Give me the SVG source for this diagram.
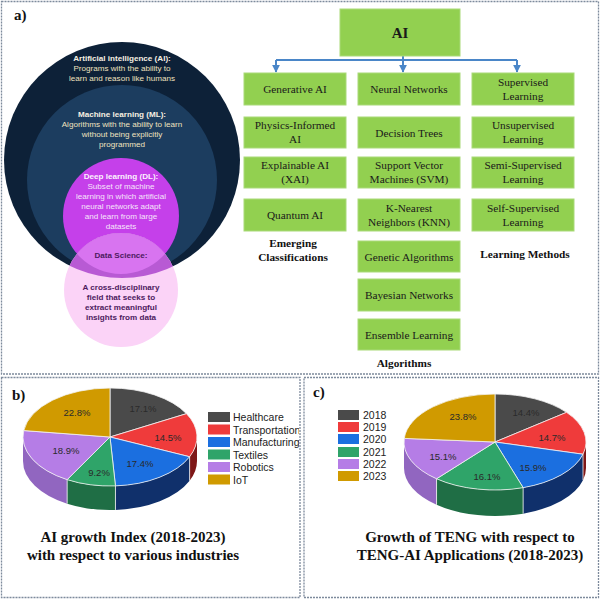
<svg xmlns="http://www.w3.org/2000/svg" width="600" height="599" viewBox="0 0 600 599">
<style>
.frame{fill:#fff;stroke:#7d8a9c;stroke-width:1.3;stroke-dasharray:2 1}
.plabel{font-family:"Liberation Serif",serif;font-weight:bold;font-size:15px;fill:#111}
.ct{font-family:"Liberation Sans",Arial,sans-serif;font-size:8.1px;text-anchor:middle}
.ctb{font-weight:bold}
.box rect{fill:#92d050;stroke:#a9da78;stroke-width:1}
.box text{font-family:"Liberation Serif",serif;font-size:11.3px;fill:#1a1a1a;text-anchor:middle}
.grp{font-family:"Liberation Serif",serif;font-weight:bold;font-size:11.3px;fill:#111;text-anchor:middle}
.conn{stroke:#4a86c8;stroke-width:2;fill:none}
.pct{font-family:"Liberation Sans",Arial,sans-serif;font-size:9.5px;fill:#2a2a2a;text-anchor:middle}
.leg{font-family:"Liberation Sans",Arial,sans-serif;font-size:10.5px;fill:#222}
.ttl{font-family:"Liberation Serif",serif;font-weight:bold;font-size:15px;fill:#111;text-anchor:middle}
</style>
<defs>
<marker id="arr" viewBox="0 0 10 10" refX="9" refY="5" markerWidth="4" markerHeight="4" orient="auto">
<path d="M0,0 L10,5 L0,10 Z" fill="#4a86c8"/>
</marker>
<clipPath id="pinkClip"><circle cx="121" cy="290" r="57"/></clipPath>
<clipPath id="clipB"><rect x="2" y="378" width="297" height="218"/></clipPath>
</defs>

<!-- frames -->
<rect class="frame" x="1.5" y="1.5" width="597" height="372.5"/>
<rect class="frame" x="1.5" y="377.5" width="298.5" height="220"/>
<rect class="frame" x="304" y="377.5" width="294.5" height="220"/>

<text class="plabel" x="14" y="20">a)</text>
<text class="plabel" x="12" y="400">b)</text>
<text class="plabel" x="313" y="397">c)</text>

<!-- Panel a: nested circles -->
<g id="venn">
<circle cx="122" cy="160" r="118" fill="#0d2138"/>
<circle cx="122" cy="180" r="95" fill="#1c3d5f"/>
<circle cx="121" cy="216" r="58" fill="#c540ea"/>
<circle cx="121" cy="290" r="57" fill="#fbd3f7"/>
<g clip-path="url(#pinkClip)">
<circle cx="122" cy="160" r="118" fill="#b85ad4"/>
<circle cx="121" cy="216" r="58" fill="#d874f0"/>
</g>
<g class="ct">
<text x="122" y="61" class="ctb" fill="#f7f0e2">Artificial intelligence (AI):</text>
<text x="122" y="71" fill="#efe2bf">Programs with the ability to</text>
<text x="122" y="81" fill="#efe2bf">learn and reason like humans</text>
<text x="122" y="117" class="ctb" fill="#f7f0e2">Machine learning (ML):</text>
<text x="122" y="127" fill="#efe2bf">Algorithms with the ability to learn</text>
<text x="122" y="137" fill="#efe2bf">without being explicitly</text>
<text x="122" y="147" fill="#efe2bf">programmed</text>
<text x="121" y="179" class="ctb" fill="#fdf2ff">Deep learning (DL):</text>
<text x="121" y="189" fill="#f6e4fb">Subset of machine</text>
<text x="121" y="199" fill="#f6e4fb">learning in which artificial</text>
<text x="121" y="209" fill="#f6e4fb">neural networks adapt</text>
<text x="121" y="219" fill="#f6e4fb">and learn from large</text>
<text x="121" y="229" fill="#f6e4fb">datasets</text>
<text x="121" y="258" class="ctb" fill="#4d1a5e">Data Science:</text>
<text x="121" y="290" class="ctb" fill="#4d1a5e">A cross-disciplinary</text>
<text x="121" y="300" class="ctb" fill="#4d1a5e">field that seeks to</text>
<text x="121" y="310" class="ctb" fill="#4d1a5e">extract meaningful</text>
<text x="121" y="320" class="ctb" fill="#4d1a5e">insights from data</text>
</g>
</g>

<!-- Panel a: hierarchy -->
<g id="connectors">
<line class="conn" x1="403" y1="56" x2="403" y2="60"/>
<line class="conn" x1="276" y1="60" x2="517" y2="60"/>
<line class="conn" x1="276" y1="60" x2="276" y2="72" marker-end="url(#arr)"/>
<line class="conn" x1="403" y1="60" x2="403" y2="72" marker-end="url(#arr)"/>
<line class="conn" x1="517" y1="60" x2="517" y2="72" marker-end="url(#arr)"/>
</g>

<g id="ai" class="box"><rect x="340" y="9" width="120" height="47"/><text x="400" y="38" style="font-weight:bold;font-size:15px">AI</text></g>

<g id="generative" class="box"><rect x="244" y="73" width="102" height="32"/><text x="295" y="93">Generative AI</text></g>
<g id="physics" class="box"><rect x="244" y="117" width="102" height="31"/><text x="295" y="129">Physics-Informed</text><text x="295" y="143">AI</text></g>
<g id="xai" class="box"><rect x="244" y="157" width="102" height="31"/><text x="295" y="169">Explainable AI</text><text x="295" y="183">(XAI)</text></g>
<g id="quantum" class="box"><rect x="244" y="199" width="102" height="32"/><text x="295" y="219">Quantum AI</text></g>

<g id="nn" class="box"><rect x="358" y="73" width="102" height="32"/><text x="409" y="93">Neural Networks</text></g>
<g id="dt" class="box"><rect x="358" y="117" width="102" height="31"/><text x="409" y="137">Decision Trees</text></g>
<g id="svm" class="box"><rect x="358" y="157" width="102" height="31"/><text x="409" y="169">Support Vector</text><text x="409" y="183">Machines (SVM)</text></g>
<g id="knn" class="box"><rect x="358" y="199" width="102" height="32"/><text x="409" y="212">K-Nearest</text><text x="409" y="226">Neighbors (KNN)</text></g>
<g id="ga" class="box"><rect x="358" y="241" width="102" height="31"/><text x="409" y="261">Genetic Algorithms</text></g>
<g id="bn" class="box"><rect x="358" y="279" width="102" height="32"/><text x="409" y="299">Bayesian Networks</text></g>
<g id="el" class="box"><rect x="358" y="319" width="102" height="31"/><text x="409" y="339">Ensemble Learning</text></g>

<g id="sup" class="box"><rect x="472" y="73" width="102" height="32"/><text x="523" y="86">Supervised</text><text x="523" y="100">Learning</text></g>
<g id="unsup" class="box"><rect x="472" y="117" width="102" height="31"/><text x="523" y="129">Unsupervised</text><text x="523" y="143">Learning</text></g>
<g id="semi" class="box"><rect x="472" y="157" width="102" height="31"/><text x="523" y="169">Semi-Supervised</text><text x="523" y="183">Learning</text></g>
<g id="self" class="box"><rect x="472" y="199" width="102" height="32"/><text x="523" y="212">Self-Supervised</text><text x="523" y="226">Learning</text></g>

<text class="grp" x="293" y="247">Emerging</text>
<text class="grp" x="293" y="261">Classifications</text>
<text class="grp" x="525" y="258">Learning Methods</text>
<text class="grp" x="404" y="367">Algorithms</text>

<!-- Panel b pie -->
<g id="pieB">
<path d="M197,437 A87,49 0 0,1 189.62,456.74 L189.62,480.74 A87,49 0 0,0 197,461 Z" fill="#7e1717"/>
<path d="M189.62,456.74 A87,49 0 0,1 115.46,485.9 L115.46,509.9 A87,49 0 0,0 189.62,480.74 Z" fill="#10306b"/>
<path d="M115.46,485.9 A87,49 0 0,1 67.14,479.64 L67.14,503.64 A87,49 0 0,0 115.46,509.9 Z" fill="#1f6e45"/>
<path d="M67.14,479.64 A87,49 0 0,1 23,437 L23,461 A87,49 0 0,0 67.14,503.64 Z" fill="#9166c0"/>
<g stroke="#f2f2f2" stroke-width="0.8">
<path d="M110,437 L110,388 A87,49 0 0,1 186.5,413.66 Z" fill="#4a4a4a"/>
<path d="M110,437 L186.5,413.66 A87,49 0 0,1 189.62,456.74 Z" fill="#ef3b3b"/>
<path d="M110,437 L189.62,456.74 A87,49 0 0,1 115.46,485.9 Z" fill="#1b6fe0"/>
<path d="M110,437 L115.46,485.9 A87,49 0 0,1 67.14,479.64 Z" fill="#2fa469"/>
<path d="M110,437 L67.14,479.64 A87,49 0 0,1 23.76,430.55 Z" fill="#b57de6"/>
<path d="M110,437 L23.76,430.55 A87,49 0 0,1 110,388 Z" fill="#d09a00"/>
<line x1="115.46" y1="485.9" x2="115.46" y2="509.9"/>
<line x1="67.14" y1="479.64" x2="67.14" y2="503.64"/>
<line x1="189.62" y1="456.74" x2="189.62" y2="480.74"/>
</g>
<text class="pct" x="143" y="412">17.1%</text>
<text class="pct" x="168" y="441">14.5%</text>
<text class="pct" x="140" y="467">17.4%</text>
<text class="pct" x="99" y="476">9.2%</text>
<text class="pct" x="66" y="454">18.9%</text>
<text class="pct" x="77" y="416">22.8%</text>
</g>
<g id="legendB" clip-path="url(#clipB)">
<rect x="208" y="412" width="22" height="10" fill="#4a4a4a"/><text class="leg" x="233" y="421">Healthcare</text>
<rect x="208" y="424.5" width="22" height="10" fill="#ef3b3b"/><text class="leg" x="233" y="433.5">Transportation</text>
<rect x="208" y="437" width="22" height="10" fill="#1b6fe0"/><text class="leg" x="233" y="446">Manufacturing</text>
<rect x="208" y="449.5" width="22" height="10" fill="#2fa469"/><text class="leg" x="233" y="458.5">Textiles</text>
<rect x="208" y="462" width="22" height="10" fill="#b57de6"/><text class="leg" x="233" y="471">Robotics</text>
<rect x="208" y="474.5" width="22" height="10" fill="#d09a00"/><text class="leg" x="233" y="483.5">IoT</text>
</g>
<text class="ttl" x="133" y="542">AI growth Index (2018-2023)</text>
<text class="ttl" x="133" y="560">with respect to various industries</text>

<!-- Panel c pie -->
<g id="pieC">
<path d="M586,442 A91,48 0 0,1 583,454.23 L583,480.23 A91,48 0 0,0 586,468 Z" fill="#7e1717"/>
<path d="M583,454.23 A91,48 0 0,1 523.12,487.65 L523.12,513.65 A91,48 0 0,0 583,480.23 Z" fill="#10306b"/>
<path d="M523.12,487.65 A91,48 0 0,1 436.55,478.79 L436.55,504.79 A91,48 0 0,0 523.12,513.65 Z" fill="#1f6e45"/>
<path d="M436.55,478.79 A91,48 0 0,1 404,442 L404,468 A91,48 0 0,0 436.55,504.79 Z" fill="#9166c0"/>
<g stroke="#f2f2f2" stroke-width="0.8">
<path d="M495,442 L495,394 A91,48 0 0,1 566.56,412.35 Z" fill="#4a4a4a"/>
<path d="M495,442 L566.56,412.35 A91,48 0 0,1 583,454.23 Z" fill="#ef3b3b"/>
<path d="M495,442 L583,454.23 A91,48 0 0,1 523.12,487.65 Z" fill="#1b6fe0"/>
<path d="M495,442 L523.12,487.65 A91,48 0 0,1 436.55,478.79 Z" fill="#2fa469"/>
<path d="M495,442 L436.55,478.79 A91,48 0 0,1 404.26,438.39 Z" fill="#b57de6"/>
<path d="M495,442 L404.26,438.39 A91,48 0 0,1 495,394 Z" fill="#d09a00"/>
<line x1="583" y1="454.23" x2="583" y2="480.23"/>
<line x1="523.12" y1="487.65" x2="523.12" y2="513.65"/>
<line x1="436.55" y1="478.79" x2="436.55" y2="504.79"/>
</g>
<text class="pct" x="526" y="416">14.4%</text>
<text class="pct" x="552" y="441">14.7%</text>
<text class="pct" x="533" y="471">15.9%</text>
<text class="pct" x="487" y="480">16.1%</text>
<text class="pct" x="443" y="460">15.1%</text>
<text class="pct" x="463" y="420">23.8%</text>
</g>
<g id="legendC">
<rect x="338" y="410" width="21" height="10" fill="#4a4a4a"/><text class="leg" x="363" y="419">2018</text>
<rect x="338" y="422" width="21" height="10" fill="#ef3b3b"/><text class="leg" x="363" y="431">2019</text>
<rect x="338" y="434" width="21" height="10" fill="#1b6fe0"/><text class="leg" x="363" y="443">2020</text>
<rect x="338" y="447" width="21" height="10" fill="#2fa469"/><text class="leg" x="363" y="456">2021</text>
<rect x="338" y="459" width="21" height="10" fill="#b57de6"/><text class="leg" x="363" y="468">2022</text>
<rect x="338" y="471" width="21" height="10" fill="#d09a00"/><text class="leg" x="363" y="480">2023</text>
</g>
<text class="ttl" x="470" y="542">Growth of TENG with respect to</text>
<text class="ttl" x="470" y="560">TENG-AI Applications (2018-2023)</text>
</svg>
